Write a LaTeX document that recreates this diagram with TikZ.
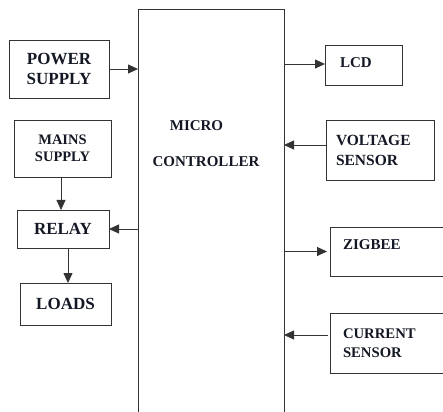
\documentclass[tikz,border=0pt]{standalone}
\usepackage{fontspec}
\setmainfont{Liberation Serif}
\usetikzlibrary{arrows.meta,positioning}
\definecolor{bdline}{HTML}{333333}
\definecolor{bdtext}{HTML}{141824}
\newcommand{\fs}[2]{\fontsize{#1}{#2}\selectfont\bfseries}
\begin{document}
\begin{tikzpicture}[x=1pt,y=-1pt,>={Triangle[length=10pt,width=9pt]},
  text=bdtext,
  box/.style={draw=bdline,line width=0.8pt,inner sep=0pt,outer sep=0pt,align=center},
  rbox/.style={box,align=left,inner xsep=11pt,text width=#1},
  arr/.style={->,line width=0.8pt,bdline}]
\useasboundingbox (0,0) rectangle (443,411);
\fill[white] (0,0) rectangle (443,411);
% left side
\node[box,minimum width=100,minimum height=58,font=\fs{17}{20}] (pwr) at (59,69) {POWER\\SUPPLY};
\node[box,minimum width=97,minimum height=57,font=\fs{14.5}{17}] (mains) at (62.5,148.5) {MAINS\\SUPPLY};
\node[box,minimum width=92,minimum height=38,font=\fs{17}{20}] (relay) at (63,229) {RELAY};
\node[box,minimum width=91,minimum height=42,font=\fs{17}{20}] (loads) at (65.5,304) {LOADS};
% controller
\node[box,line width=1pt,minimum width=146,minimum height=405] (mc) at (211,212.5) {};
\node[font=\fs{15}{18},inner sep=0pt] (mcA) at (196.5,126) {MICRO};
\node[font=\fs{15}{18},inner sep=0pt] (mcB) at (206,162) {CONTROLLER};
% right side
\node[rbox=47,minimum height=40,inner xsep=15pt,text depth=5pt,font=\fs{15}{18}] (lcd) at (363.5,65) {LCD};
\node[rbox=88,minimum height=60,inner xsep=10pt,font=\fs{15.5}{20}] (volt) at (380,150) {VOLTAGE\\SENSOR};
\node[rbox=94,minimum height=49,inner xsep=13pt,text depth=13pt,font=\fs{15}{19}] (zig) at (390,251.5) {ZIGBEE};
\node[rbox=94,minimum height=60,inner xsep=13pt,font=\fs{14.7}{19}] (cur) at (390,343) {CURRENT\\SENSOR};
% connections
\draw[arr] (pwr.east) -- (pwr.east -| mc.west);
\draw[arr] ([xshift=-2pt]relay.north |- mains.south) -- ([xshift=-2pt]relay.north);
\draw[arr] (relay.east -| mc.west) -- (relay.east);
\draw[arr] ([xshift=5pt]relay.south) -- ([xshift=5pt]relay.south |- loads.north);
\draw[arr] ([yshift=1pt]lcd.west -| mc.east) -- ([yshift=1pt]lcd.west);
\draw[arr] ([yshift=5pt]volt.west) -- ([yshift=5pt]volt.west -| mc.east);
\draw[arr] (zig.west -| mc.east) -- ([xshift=-3pt]zig.west);
\draw[arr] ([xshift=-2pt,yshift=8pt]cur.west) -- ([yshift=8pt]cur.west -| mc.east);
\end{tikzpicture}
\end{document}
